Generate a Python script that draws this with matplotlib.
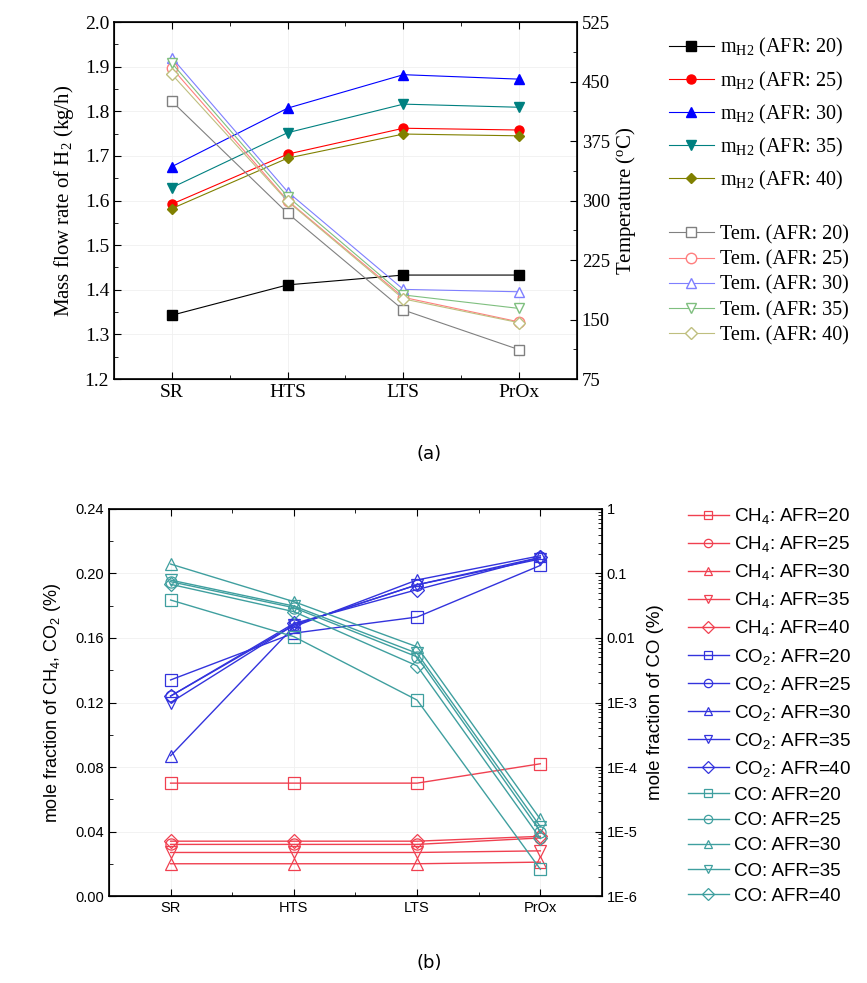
import numpy as np
import matplotlib
matplotlib.use("Agg")
import matplotlib.pyplot as plt
from matplotlib.ticker import MultipleLocator, FixedLocator, FixedFormatter, LogLocator, NullFormatter

plt.rcParams["mathtext.default"] = "regular"

# ---------------------------------------------------------------------------
# Data
# ---------------------------------------------------------------------------
stages = ["SR", "HTS", "LTS", "PrOx"]
afr = [20, 25, 30, 35, 40]

# (a) hydrogen mass flow rate (kg/h)
mh2_20 = [1.343, 1.411, 1.433, 1.433]
mh2_25 = [1.592, 1.704, 1.762, 1.758]
mh2_30 = [1.676, 1.807, 1.882, 1.872]
mh2_35 = [1.629, 1.752, 1.816, 1.809]
mh2_40 = [1.582, 1.695, 1.749, 1.745]

# (a) temperature (deg C)
tem_20 = [425, 284, 162, 112]
tem_25 = [467, 300, 178, 147]
tem_30 = [480, 311, 188, 185]
tem_35 = [473, 305, 181, 164]
tem_40 = [459, 299, 176, 146]

# (b) CH4 mole fraction (%)
ch4_20 = [0.070, 0.070, 0.070, 0.082]
ch4_25 = [0.032, 0.032, 0.032, 0.036]
ch4_30 = [0.020, 0.020, 0.020, 0.021]
ch4_35 = [0.027, 0.027, 0.027, 0.028]
ch4_40 = [0.034, 0.034, 0.034, 0.037]

# (b) CO2 mole fraction (%)
co2_20 = [0.134, 0.163, 0.173, 0.205]
co2_25 = [0.124, 0.168, 0.193, 0.210]
co2_30 = [0.087, 0.167, 0.196, 0.211]
co2_35 = [0.120, 0.168, 0.193, 0.209]
co2_40 = [0.124, 0.169, 0.190, 0.210]

# (b) CO mole fraction (%), log scale
co_20 = [0.0388, 0.0105, 1.09e-3, 2.6e-6]
co_25 = [0.0747, 0.0295, 5.1e-3, 1.0e-5]
co_30 = [0.140, 0.0366, 7.3e-3, 1.55e-5]
co_35 = [0.079, 0.0313, 5.8e-3, 1.19e-5]
co_40 = [0.068, 0.0256, 3.7e-3, 7.8e-6]

log_ticks = [1e-6, 1e-5, 1e-4, 1e-3, 1e-2, 1e-1, 1]
log_labels = ["1E-6", "1E-5", "1E-4", "1E-3", "0.01", "0.1", "1"]

x = np.arange(len(stages))

fig = plt.figure(figsize=(8.67, 9.83), dpi=100)

# ---------------------------------------------------------------------------
# (a)
# ---------------------------------------------------------------------------
SERIF = "Liberation Serif"
ax1 = fig.add_axes([0.1315, 0.6144, 0.534, 0.3632])
ax1r = ax1.twinx()

m_cols = ["black", "red", "blue", "#008080", "#808000"]
m_mk = ["s", "o", "^", "v", "D"]
t_cols = ["#808080", "#ff7f7f", "#7f7fff", "#7fbf7f", "#bfbf7f"]
t_mk = ["s", "o", "^", "v", "D"]

m_handles = []
for vals, c, mk, a in zip([mh2_20, mh2_25, mh2_30, mh2_35, mh2_40], m_cols, m_mk, afr):
    ms = 6.5 if mk != "D" else 5.5
    h, = ax1.plot(x, vals, color=c, lw=0.8, marker=mk, ms=ms, mfc=c, mec=c,
                  label=r"m$_{H2}$ (AFR: %d)" % a)
    m_handles.append(h)

t_handles = []
for vals, c, mk, a in zip([tem_20, tem_25, tem_30, tem_35, tem_40], t_cols, t_mk, afr):
    ms = 7.5 if mk != "D" else 6.5
    h, = ax1r.plot(x, vals, color=c, lw=0.8, marker=mk, ms=ms, mfc="white", mec=c,
                   label="Tem. (AFR: %d)" % a)
    t_handles.append(h)

ax1.set_xlim(-0.5, 3.5)
ax1.set_ylim(1.2, 2.0)
ax1r.set_ylim(75, 525)
ax1.set_xticks(x)
ax1.set_xticklabels(stages, fontsize=14, fontfamily=SERIF)
ax1.xaxis.set_minor_locator(FixedLocator([0.5, 1.5, 2.5]))
ax1.yaxis.set_major_locator(MultipleLocator(0.1))
ax1.yaxis.set_minor_locator(MultipleLocator(0.05))
ax1r.yaxis.set_major_locator(MultipleLocator(75))
ax1r.yaxis.set_minor_locator(MultipleLocator(37.5))
ax1.tick_params(which="both", direction="in", top=True, right=False)
ax1.tick_params(which="major", length=5)
ax1.tick_params(which="minor", length=3)
ax1r.tick_params(which="both", direction="in")
ax1r.tick_params(which="major", length=5)
ax1r.tick_params(which="minor", length=3)
for lab in ax1.get_yticklabels():
    lab.set_fontfamily(SERIF)
    lab.set_fontsize(14)
for lab in ax1r.get_yticklabels():
    lab.set_fontfamily(SERIF)
    lab.set_fontsize(13.5)
ax1.set_ylabel(r"Mass flow rate of H$_2$ (kg/h)", fontsize=15, fontfamily=SERIF, labelpad=6)
ax1r.set_ylabel(r"Temperature ($^o$C)", fontsize=15, fontfamily=SERIF, labelpad=3)
ax1.grid(True, color="#f0f0f0", lw=0.6)
for sp in ax1.spines.values():
    sp.set_linewidth(1.2)

leg1 = fig.legend(handles=m_handles, loc="upper left", bbox_to_anchor=(0.772, 0.963),
                  frameon=False, prop={"family": SERIF, "size": 14.5},
                  handlelength=2.2, handletextpad=0.3, labelspacing=0.5,
                  borderpad=0, borderaxespad=0)
leg2 = fig.legend(handles=t_handles, loc="upper left", bbox_to_anchor=(0.772, 0.771),
                  frameon=False, prop={"family": SERIF, "size": 14.5},
                  handlelength=2.2, handletextpad=0.3, labelspacing=0.3,
                  borderpad=0, borderaxespad=0)

fig.text(0.495, 0.538, "(a)", ha="center", va="center", fontsize=13, fontfamily="DejaVu Sans")

# ---------------------------------------------------------------------------
# (b)
# ---------------------------------------------------------------------------
SANS = "Liberation Sans"
ax2 = fig.add_axes([0.1257, 0.0885, 0.5686, 0.3937])
ax2r = ax2.twinx()

ch4_col = "#f04050"
co2_col = "#3333dd"
co_col = "#3f9f9f"
mk_open = ["s", "o", "^", "v", "D"]

handles_b = []
for vals, mk, a in zip([ch4_20, ch4_25, ch4_30, ch4_35, ch4_40], mk_open, afr):
    ms = 8 if mk != "D" else 7
    h, = ax2.plot(x, vals, color=ch4_col, lw=1.0, marker=mk, ms=ms, mfc="none",
                  mec=ch4_col, mew=0.9, label=r"CH$_4$: AFR=%d" % a)
    handles_b.append(h)
for vals, mk, a in zip([co2_20, co2_25, co2_30, co2_35, co2_40], mk_open, afr):
    ms = 8 if mk != "D" else 7
    h, = ax2.plot(x, vals, color=co2_col, lw=1.0, marker=mk, ms=ms, mfc="none",
                  mec=co2_col, mew=0.9, label=r"CO$_2$: AFR=%d" % a)
    handles_b.append(h)
for vals, mk, a in zip([co_20, co_25, co_30, co_35, co_40], mk_open, afr):
    ms = 8 if mk != "D" else 7
    h, = ax2r.plot(x, vals, color=co_col, lw=1.0, marker=mk, ms=ms, mfc="none",
                   mec=co_col, mew=0.9, label="CO: AFR=%d" % a)
    handles_b.append(h)

ax2.set_xlim(-0.5, 3.5)
ax2.set_ylim(0, 0.24)
ax2r.set_yscale("log")
ax2r.set_ylim(1e-6, 1)
ax2.set_xticks(x)
ax2.set_xticklabels(stages, fontsize=10.5, fontfamily=SANS)
ax2.xaxis.set_minor_locator(FixedLocator([0.5, 1.5, 2.5]))
ax2.yaxis.set_major_locator(MultipleLocator(0.04))
ax2.yaxis.set_minor_locator(MultipleLocator(0.02))
ax2.yaxis.set_major_formatter(plt.FuncFormatter(lambda v, p: "%.2f" % v))
ax2r.yaxis.set_major_locator(FixedLocator(log_ticks))
ax2r.yaxis.set_major_formatter(FixedFormatter(log_labels))
ax2r.yaxis.set_minor_locator(LogLocator(base=10, subs=np.arange(2, 10)))
ax2r.yaxis.set_minor_formatter(NullFormatter())
ax2.tick_params(which="both", direction="in", top=True, right=False)
ax2.tick_params(which="major", length=5)
ax2.tick_params(which="minor", length=3)
ax2r.tick_params(which="both", direction="in")
ax2r.tick_params(which="major", length=5)
ax2r.tick_params(which="minor", length=3)
for lab in ax2.get_yticklabels() + ax2r.get_yticklabels():
    lab.set_fontfamily(SANS)
    lab.set_fontsize(10.5)
ax2.set_ylabel(r"mole fraction of CH$_4$, CO$_2$ (%)", fontsize=13, fontfamily=SANS, labelpad=9)
ax2r.set_ylabel("mole fraction of CO (%)", fontsize=13.5, fontfamily=SANS, labelpad=7)
ax2.grid(True, color="#f0f0f0", lw=0.6)
for sp in ax2.spines.values():
    sp.set_linewidth(1.2)

leg3 = fig.legend(handles=handles_b, loc="upper left", bbox_to_anchor=(0.793, 0.485),
                  frameon=False, prop={"family": SANS, "size": 13.5},
                  handlelength=2.2, handletextpad=0.3, labelspacing=0.43,
                  borderpad=0, borderaxespad=0)
for h in leg3.legend_handles:
    h.set_markersize(6)

fig.text(0.495, 0.020, "(b)", ha="center", va="center", fontsize=13, fontfamily="DejaVu Sans")

fig.savefig("out.png", dpi=100)
